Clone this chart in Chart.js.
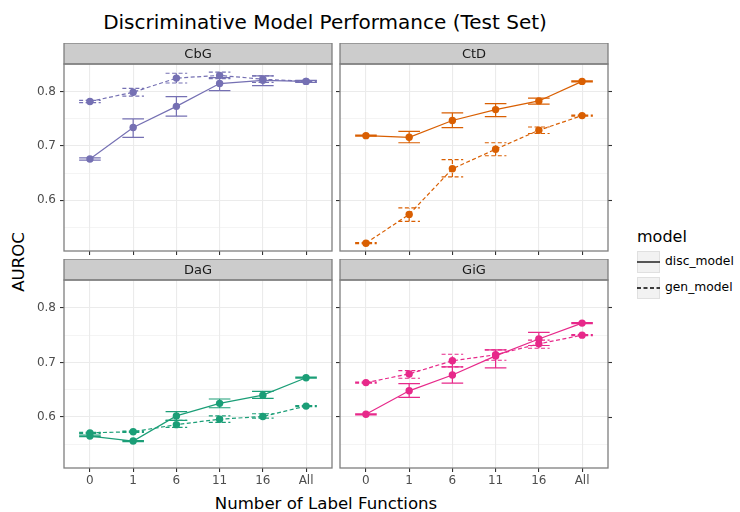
<!DOCTYPE html>
<html>
<head>
<meta charset="utf-8">
<script src="https://cdn.jsdelivr.net/npm/chart.js@4.4.1/dist/chart.umd.min.js"></script>
<style>
  body { margin: 0; background: #fff; }
  #wrap { position: relative; width: 740px; height: 512px; overflow: hidden; font-family: "DejaVu Sans", sans-serif; }
  canvas { position: absolute; }
  .txt { position: absolute; white-space: nowrap; color: #000; line-height: 1; }
  .key { position: absolute; width: 23px; height: 22px; background: #f2f2f2; box-sizing: border-box; border: 1px solid #e0e0e0; }
</style>
</head>
<body>
<div id="wrap">
  <div class="txt" id="title" style="left:25px; width:600px; text-align:center; top:12px; font-size:20px;">Discriminative Model Performance (Test Set)</div>
  <div class="txt" style="left:26px; width:600px; text-align:center; top:496px; font-size:16.6px;">Number of Label Functions</div>
  <div class="txt" style="left:19px; top:262px; font-size:16.6px; transform: translate(-50%, -50%) rotate(-90deg);">AUROC</div>

  <canvas id="cbg" width="318" height="216" style="left:20px; top:43px;"></canvas>
  <canvas id="ctd" width="284" height="216" style="left:336px; top:43px;"></canvas>
  <canvas id="dag" width="318" height="230" style="left:20px; top:259px;"></canvas>
  <canvas id="gig" width="284" height="230" style="left:336px; top:259px;"></canvas>

  <div class="txt" style="left:637px; top:229px; font-size:16px;">model</div>
  <div class="key" style="left:637px; top:251px;"></div>
  <svg style="position:absolute; left:637px; top:251px;" width="23" height="22"><line x1="0" y1="11" x2="23" y2="11" stroke="#000" stroke-width="1.3"/></svg>
  <div class="txt" style="left:665px; top:255px; font-size:12.3px;">disc_model</div>
  <div class="key" style="left:637px; top:277px;"></div>
  <svg style="position:absolute; left:637px; top:277px;" width="23" height="22"><line x1="0" y1="11" x2="23" y2="11" stroke="#000" stroke-width="1.3" stroke-dasharray="4,2.5"/></svg>
  <div class="txt" style="left:665px; top:281px; font-size:12.3px;">gen_model</div>
</div>

<script>
const xLabels = ['0', '1', '6', '11', '16', 'All'];
const yTicks = [0.55, 0.6, 0.65, 0.7, 0.75, 0.8];
const yMin = 0.5066;
const yMax = 0.851;

// CbG
const cbgDisc   = [0.676, 0.734, 0.773, 0.815, 0.821, 0.819];
const cbgDiscLo = [0.674, 0.716, 0.755, 0.802, 0.811, 0.817];
const cbgDiscHi = [0.678, 0.750, 0.791, 0.826, 0.829, 0.821];
const cbgGen    = [0.782, 0.799, 0.825, 0.830, 0.823, 0.819];
const cbgGenLo  = [0.780, 0.792, 0.816, 0.824, 0.817, 0.818];
const cbgGenHi  = [0.784, 0.806, 0.834, 0.836, 0.829, 0.820];

// CtD
const ctdDisc   = [0.719, 0.716, 0.747, 0.767, 0.783, 0.819];
const ctdDiscLo = [0.718, 0.706, 0.734, 0.754, 0.777, 0.818];
const ctdDiscHi = [0.720, 0.727, 0.761, 0.778, 0.788, 0.820];
const ctdGen    = [0.521, 0.574, 0.658, 0.694, 0.729, 0.756];
const ctdGenLo  = [0.520, 0.561, 0.643, 0.682, 0.723, 0.755];
const ctdGenHi  = [0.522, 0.586, 0.675, 0.706, 0.735, 0.757];

// DaG
const dagDisc   = [0.565, 0.556, 0.602, 0.625, 0.640, 0.672];
const dagDiscLo = [0.564, 0.555, 0.594, 0.617, 0.634, 0.671];
const dagDiscHi = [0.567, 0.557, 0.610, 0.633, 0.647, 0.673];
const dagGen    = [0.571, 0.573, 0.586, 0.596, 0.601, 0.620];
const dagGenLo  = [0.570, 0.572, 0.581, 0.590, 0.598, 0.619];
const dagGenHi  = [0.572, 0.574, 0.594, 0.602, 0.606, 0.621];

// GiG
const gigDisc   = [0.605, 0.648, 0.677, 0.712, 0.743, 0.772];
const gigDiscLo = [0.604, 0.636, 0.662, 0.690, 0.731, 0.771];
const gigDiscHi = [0.606, 0.661, 0.692, 0.723, 0.755, 0.773];
const gigGen    = [0.663, 0.679, 0.703, 0.714, 0.734, 0.750];
const gigGenLo  = [0.662, 0.671, 0.692, 0.704, 0.726, 0.749];
const gigGenHi  = [0.664, 0.685, 0.715, 0.723, 0.741, 0.751];

const isMajor = v => Math.abs(v * 10 - Math.round(v * 10)) < 1e-6;
const toPoints = arr => arr.map((v, i) => ({ x: i, y: v }));

// no label overflow padding, the panel sizes are fixed
function fixSize(s, w, h) {
  if (w !== null) s.width = w;
  if (h !== null) s.height = h;
  s.paddingTop = 0;
  s.paddingBottom = 0;
  s.paddingLeft = 0;
  s.paddingRight = 0;
}

// error bars + panel frame + facet strip
const facetPlugin = {
  id: 'facet',
  afterDatasetsDraw(chart) {
    const c = chart.ctx;
    const xs = chart.scales.x, ys = chart.scales.y;
    chart.data.datasets.forEach(ds => {
      c.save();
      c.strokeStyle = ds.borderColor;
      c.lineWidth = 1.2;
      c.setLineDash(ds.borderDash || []);
      ds.data.forEach((p, i) => {
        const x = xs.getPixelForValue(p.x);
        const x0 = xs.getPixelForValue(p.x - 0.25);
        const x1 = xs.getPixelForValue(p.x + 0.25);
        const lo = ys.getPixelForValue(ds.errLo[i]);
        const hi = ys.getPixelForValue(ds.errHi[i]);
        c.beginPath();
        c.moveTo(x, lo); c.lineTo(x, hi);
        c.moveTo(x0, lo); c.lineTo(x1, lo);
        c.moveTo(x0, hi); c.lineTo(x1, hi);
        c.stroke();
      });
      c.restore();
    });
  },
  afterDraw(chart) {
    const a = chart.chartArea, c = chart.ctx;
    const stripH = 21;
    c.save();
    c.fillStyle = '#cccccc';
    c.fillRect(a.left, a.top - stripH, a.right - a.left, stripH);
    c.strokeStyle = '#7f7f7f';
    c.lineWidth = 1.3;
    c.strokeRect(a.left, a.top - stripH, a.right - a.left, stripH);
    c.strokeRect(a.left, a.top, a.right - a.left, a.bottom - a.top);
    c.fillStyle = '#1a1a1a';
    c.font = '13px "DejaVu Sans"';
    c.textAlign = 'center';
    c.textBaseline = 'middle';
    c.fillText(chart.options.facetName, (a.left + a.right) / 2, a.top - stripH / 2 + 1);
    c.restore();
  }
};

function makePanel(id, name, color, disc, discLo, discHi, gen, genLo, genHi, isLeft, isBottom) {
  const scales = {
    x: {
      type: 'linear',
      min: -0.6,
      max: 5.6,
      afterBuildTicks: s => { s.ticks = xLabels.map((l, i) => ({ value: i })); },
      afterFit: s => fixSize(s, null, isBottom ? 21 : 8),
      border: { display: false },
      grid: {
        color: '#ebebeb',
        lineWidth: 1.1,
        tickColor: '#333333',
        tickLength: 4,
        tickWidth: 1.1
      },
      ticks: {
        display: isBottom,
        padding: 2,
        color: '#4d4d4d',
        font: { family: 'DejaVu Sans', size: 12 },
        maxRotation: 0,
        autoSkip: false,
        callback: v => xLabels[v]
      }
    },
    y: {
      type: 'linear',
      position: 'left',
      min: yMin,
      max: yMax,
      afterBuildTicks: s => { s.ticks = yTicks.map(v => ({ value: v })); },
      afterFit: s => fixSize(s, isLeft ? 44 : 4, null),
      border: { display: false },
      grid: {
        color: '#ebebeb',
        lineWidth: ctx => isMajor(ctx.tick.value) ? 1.1 : 0.55,
        tickColor: ctx => isMajor(ctx.tick.value) ? '#333333' : 'rgba(0,0,0,0)',
        tickLength: 4,
        tickWidth: 1.1
      },
      ticks: {
        display: isLeft,
        padding: 4,
        color: '#4d4d4d',
        font: { family: 'DejaVu Sans', size: 12 },
        callback: v => isMajor(v) ? v.toFixed(1) : ''
      }
    }
  };
  if (!isLeft) {
    scales.y2 = {
      type: 'linear',
      position: 'right',
      min: yMin,
      max: yMax,
      afterBuildTicks: s => { s.ticks = yTicks.map(v => ({ value: v })); },
      afterFit: s => fixSize(s, 12, null),
      border: { display: false },
      grid: {
        drawOnChartArea: false,
        tickColor: ctx => isMajor(ctx.tick.value) ? '#333333' : 'rgba(0,0,0,0)',
        tickLength: 4,
        tickWidth: 1.1
      },
      ticks: { display: false }
    };
  }

  const common = {
    borderColor: color,
    backgroundColor: color,
    pointBackgroundColor: color,
    pointBorderWidth: 0,
    pointRadius: 3.7,
    borderWidth: 1.2,
    tension: 0,
    fill: false
  };

  return new Chart(document.getElementById(id), {
    type: 'line',
    data: {
      datasets: [
        Object.assign({ label: 'disc_model', data: toPoints(disc), errLo: discLo, errHi: discHi }, common),
        Object.assign({ label: 'gen_model', data: toPoints(gen), errLo: genLo, errHi: genHi, borderDash: [4, 2.5] }, common)
      ]
    },
    options: {
      facetName: name,
      responsive: false,
      animation: false,
      devicePixelRatio: 1,
      layout: { padding: { top: 21, right: isLeft ? 6 : 0, left: 0, bottom: 0 } },
      scales: scales,
      plugins: {
        legend: { display: false },
        tooltip: { enabled: false }
      }
    },
    plugins: [facetPlugin]
  });
}

makePanel('cbg', 'CbG', '#7570b3', cbgDisc, cbgDiscLo, cbgDiscHi, cbgGen, cbgGenLo, cbgGenHi, true, false);
makePanel('ctd', 'CtD', '#d95f02', ctdDisc, ctdDiscLo, ctdDiscHi, ctdGen, ctdGenLo, ctdGenHi, false, false);
makePanel('dag', 'DaG', '#1b9e77', dagDisc, dagDiscLo, dagDiscHi, dagGen, dagGenLo, dagGenHi, true, true);
makePanel('gig', 'GiG', '#e7298a', gigDisc, gigDiscLo, gigDiscHi, gigGen, gigGenLo, gigGenHi, false, true);
</script>
</body>
</html>
